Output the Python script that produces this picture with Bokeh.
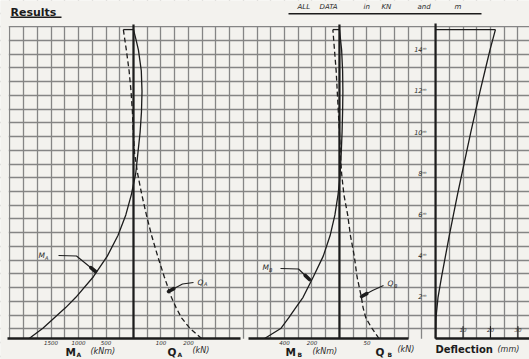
from bokeh.plotting import figure
from bokeh.models import Range1d, Label, Grid, SingleIntervalTicker, BoxAnnotation
from bokeh.embed import file_html
from bokeh.resources import INLINE

# ---------------- data ----------------
# Panel A : bending moment (kNm, drawn to the left) and shear (kN, drawn to the right)
MA_height_m = [0, 0.5, 1, 1.5, 2, 3, 4, 5, 6, 7, 7.5, 8, 9, 10, 11, 12, 13, 14, 14.5, 15]
MA_kNm = [1900, 1650, 1445, 1235, 1050, 730, 477, 283, 140, 38, 0, -40, -80, -120, -145, -155, -142, -90, -47, 0]
QA_height_m = [0, 0.5, 1, 1.5, 2, 3, 4, 5, 6, 7, 8, 9, 10, 11, 12, 13, 14, 15]
QA_kN = [248, 205, 175, 155, 138, 112, 88, 66, 47, 30, 15, 4, -1, -4, -9, -16, -26, -37]
# Panel B
MB_height_m = [0, 0.5, 1, 1.5, 2, 3, 4, 5, 6, 7, 7.6, 8, 9, 10, 11, 12, 13, 14, 15]
MB_kNm = [545, 425, 370, 318, 265, 190, 118, 68, 33, 10, 0, -5, -13, -19, -23, -25, -23, -16, 0]
QB_height_m = [0, 0.5, 1, 1.5, 2, 3, 4, 5, 6, 7, 8, 9, 10, 11, 12, 13, 14, 15]
QB_kN = [72, 59, 48, 43, 40, 32, 27, 20, 15, 8, 4, 1.5, 0, -2, -4, -6, -9, -12]
# Deflection (mm)
DEF_height_m = [0, 1, 2, 3, 4, 5, 6, 7, 8, 9, 10, 11, 12, 13, 14, 15]
DEF_mm = [0, 0.15, 0.9, 2.2, 3.6, 5.0, 6.5, 8.0, 9.6, 11.2, 12.8, 14.5, 16.2, 18.0, 19.8, 21.8]

TOP_m = 15
height_ticks_m = [2, 4, 6, 8, 10, 12, 14]
MA_ticks = [1500, 1000, 500]
QA_ticks = [100, 200]
MB_ticks = [400, 200]
QB_ticks = [50]
DEF_ticks = [10, 20, 30]

# ---------------- layout ----------------
W, H = 529, 359
CELL = 13.73          # px per grid square
AXIS_PX = 133         # x of the panel-A zero line
GRID0_PX = 328.3      # y of a horizontal grid line
BASE_PX = 338         # y of zero height
PX_PER_M = 1.5 * CELL

BG = "#f3f2ee"
GRID_C = "#858585"
INK = "#1c1c1c"
HAND = "#2b2b2b"


def cx(px):
    return (px - AXIS_PX) / CELL


def cy(px):
    return (GRID0_PX - px) / CELL


def qrange(axis_cell, per_cell, flip=False):
    s = -1 if flip else 1
    return Range1d(s * (cx(0) - axis_cell) * per_cell, s * (cx(W) - axis_cell) * per_cell)


AX_A, AX_B, AX_D = 0, 15, 22   # zero lines in grid squares

p = figure(width=W, height=H, x_range=Range1d(cx(0), cx(W)), y_range=Range1d(cy(H), cy(0)),
           x_axis_location=None, y_axis_location=None, toolbar_location=None,
           output_backend="svg", min_border=0, background_fill_color=BG,
           border_fill_color=BG, outline_line_color=None)
p.extra_x_ranges = {"MA": qrange(AX_A, 250, True), "QA": qrange(AX_A, 50),
                    "MB": qrange(AX_B, 100, True), "QB": qrange(AX_B, 25),
                    "DF": qrange(AX_D, 5)}
p.extra_y_ranges = {"m": Range1d((BASE_PX - H) / PX_PER_M, BASE_PX / PX_PER_M)}
p.grid.visible = False

for dim in (0, 1):
    p.add_layout(Grid(dimension=dim, ticker=SingleIntervalTicker(interval=1),
                      grid_line_color=GRID_C, grid_line_width=1.3), "center")

# paper outside the squared area
for kw in (dict(bottom=cy(25.4)), dict(top=cy(BASE_PX + 0.3)), dict(right=cx(8.3))):
    p.add_layout(BoxAnnotation(fill_color=BG, fill_alpha=1, line_color=None, **kw))

LW = 1.3
common = dict(line_color=INK, level="overlay")

# zero lines and base lines
for rn, top in (("MA", 15.25), ("MB", 15.25), ("DF", 15.3)):
    p.line(x=[0, 0], y=[0, top], x_range_name=rn, y_range_name="m", line_width=2.2, **common)
p.segment(x0=[cx(7), cx(248), AX_D], x1=[cx(240), cx(408), cx(W)], y0=[0, 0, 0], y1=[0, 0, 0],
          y_range_name="m", line_width=2.6, **common)

# curves
p.line(x=MA_kNm, y=MA_height_m, x_range_name="MA", y_range_name="m", line_width=LW, **common)
p.line(x=QA_kN, y=QA_height_m, x_range_name="QA", y_range_name="m", line_width=LW,
       line_dash="5 3", **common)
p.line(x=[QA_kN[-1], 0], y=[TOP_m, TOP_m], x_range_name="QA", y_range_name="m", line_width=LW, **common)
p.line(x=MB_kNm, y=MB_height_m, x_range_name="MB", y_range_name="m", line_width=LW, **common)
p.line(x=QB_kN, y=QB_height_m, x_range_name="QB", y_range_name="m", line_width=LW,
       line_dash="5 3", **common)
p.line(x=[QB_kN[-1], 0], y=[TOP_m, TOP_m], x_range_name="QB", y_range_name="m", line_width=LW, **common)
p.line(x=DEF_mm, y=DEF_height_m, x_range_name="DF", y_range_name="m", line_width=LW, **common)
p.line(x=[0, DEF_mm[-1]], y=[TOP_m, TOP_m], x_range_name="DF", y_range_name="m", line_width=LW, **common)

# deflection tick marks
p.segment(x0=DEF_ticks, x1=DEF_ticks, y0=[0] * 3, y1=[0.6] * 3, x_range_name="DF", y_range_name="m",
          line_width=1.1, **common)


def lab(text, x, y, size, style="normal", align="left", color=INK, xr="default", yr="default",
        x_offset=0, font="DejaVu Sans"):
    p.add_layout(Label(x=x, y=y, text=text, text_font=font, text_font_size=f"{size}px",
                       text_font_style=style, text_align=align, text_baseline="middle",
                       text_color=color, x_range_name=xr, y_range_name=yr, x_offset=x_offset,
                       level="overlay"))


# headings
lab("Results", cx(10), cy(11.5), 11, "bold")
p.segment(x0=[cx(10), cx(288)], x1=[cx(61), cx(481)], y0=[cy(16.8), cy(13.3)], y1=[cy(16.8), cy(13.3)],
          line_width=1.4, **common)
for word, x in (("ALL", 297), ("DATA", 319), ("in", 363), ("KN", 381), ("and", 417), ("m", 454)):
    lab(word, cx(x), cy(6), 7, "italic", color=HAND)

# bottom titles
for main, sub, unit, xm, xs, xu, yu in (("M", "A", "(kNm)", 65, 76, 90, 350.5),
                                         ("Q", "A", "(kN)", 167, 177, 192, 349.5),
                                         ("M", "B", "(kNm)", 285, 297, 312, 350.5),
                                         ("Q", "B", "(kN)", 375, 387, 397, 348.5)):
    lab(main, cx(xm), cy(351), 10.5, "bold")
    lab(sub, cx(xs), cy(353.5), 6, "bold")
    lab(unit, cx(xu), cy(yu), 8, "italic", color=HAND)
lab("Deflection", cx(435), cy(348.5), 10, "bold")
lab("(mm)", cx(497), cy(348.5), 8, "italic", color=HAND)

# tick values
for ticks, rn in ((MA_ticks, "MA"), (QA_ticks, "QA"), (MB_ticks, "MB"), (QB_ticks, "QB")):
    for t in ticks:
        lab(str(t), t, cy(342), 5.5, "italic", align="center", color=HAND, xr=rn)
for t in DEF_ticks:
    lab(str(t), t, 0.45, 5.5, "italic", align="center", color=HAND, xr="DF", yr="m")
for h in height_ticks_m:
    lab(f"{h}\u1d50", 0, h, 6.5, "italic", align="right", color=HAND, xr="DF", yr="m", x_offset=-9)

# curve call-outs
for main, sub, tx, ty, pts in (("M", "A", 38, 255, [(58, 255), (76, 255.5), (95, 271)]),
                               ("Q", "A", 197, 281.5, [(193, 282), (182, 283.5), (168, 291)]),
                               ("M", "B", 262, 267, [(280, 268), (298, 268.5), (309, 279)]),
                               ("Q", "B", 387, 283, [(383, 285), (372, 290), (361, 296)])):
    lab(main, cx(tx), cy(ty), 7.5, "italic", color=HAND)
    lab(sub, cx(tx + 6.5), cy(ty + 2), 5, "italic", color=HAND)
    xs = [cx(a) for a, b in pts]
    ys = [cy(b) for a, b in pts]
    p.line(x=xs, y=ys, line_width=1.1, **common)
    (a0, b0), (a1, b1) = pts[-2], pts[-1]
    d = ((a1 - a0) ** 2 + (b1 - b0) ** 2) ** 0.5
    f = 6 / d
    p.line(x=[cx(a1 - (a1 - a0) * f), cx(a1)], y=[cy(b1 - (b1 - b0) * f), cy(b1)],
           line_width=3.6, line_cap="round", **common)

open("out.html", "w").write(file_html(p, INLINE))
